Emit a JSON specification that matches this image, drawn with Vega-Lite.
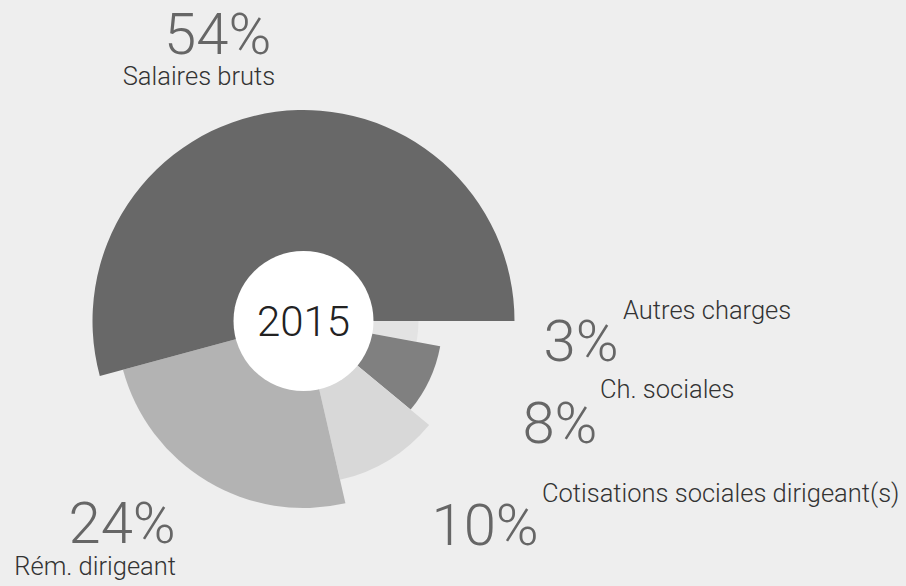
{
  "$schema": "https://vega.github.io/schema/vega-lite/v6.json",
  "width": 600,
  "height": 500,
  "autosize": {"type": "none"},
  "padding": {"left": 3.5, "top": 71, "right": 302.5, "bottom": 15},
  "background": "#eeeeee",
  "config": {"view": {"stroke": null}},
  "data": {
    "values": [
      {"categorie": "Autres charges", "part": 0.029},
      {"categorie": "Ch. sociales", "part": 0.081},
      {"categorie": "Cotisations sociales dirigeant(s)", "part": 0.104},
      {"categorie": "Rém. dirigeant", "part": 0.244},
      {"categorie": "Salaires bruts", "part": 0.542}
    ]
  },
  "layer": [
    {
      "mark": {"type": "arc", "strokeWidth": 0, "radius2": 0},
      "encoding": {
        "theta": {"field": "part", "type": "quantitative", "stack": true, "scale": {"range": [1.5708, 7.854]}},
        "order": {"field": "part", "type": "quantitative", "sort": "ascending"},
        "radius": {"field": "part", "type": "quantitative", "scale": {"type": "linear", "zero": false, "domain": [0.029, 0.081, 0.104, 0.244, 0.542], "range": [115, 139, 163, 187, 211]}},
        "color": {"field": "categorie", "type": "nominal", "legend": null, "scale": {"domain": ["Autres charges", "Ch. sociales", "Cotisations sociales dirigeant(s)", "Rém. dirigeant", "Salaires bruts"], "range": ["#e3e3e3", "#808080", "#d8d8d8", "#b3b3b3", "#686868"]}}
      }
    },
    {
      "data": {"values": [{"annee": "2015"}]},
      "mark": {"type": "arc", "radius": 70, "theta": 0, "theta2": 6.2832, "fill": "#ffffff"},
      "encoding": {}
    },
    {
      "data": {"values": [{"annee": "2015"}]},
      "mark": {"type": "text", "font": "Roboto", "fontWeight": 300, "fontSize": 42, "color": "#222222", "align": "center", "baseline": "middle", "dy": 2},
      "encoding": {"text": {"field": "annee", "type": "nominal"}}
    },
    {
      "mark": {"type": "text", "font": "Roboto", "fontWeight": 300, "fontSize": 58, "color": "#666666", "align": "center", "baseline": "middle"},
      "encoding": {
        "theta": {"field": "part", "type": "quantitative", "stack": false, "scale": {"type": "linear", "zero": false, "domain": [0.029, 0.081, 0.104, 0.244, 0.542], "range": [1.6528, 1.96, 2.4225, 3.8659, 5.99]}},
        "radius": {"field": "part", "type": "quantitative", "scale": {"type": "linear", "zero": false, "domain": [0.029, 0.081, 0.104, 0.244, 0.542], "range": [278.5, 277.2, 275.7, 273.8, 296.8]}},
        "text": {"field": "part", "type": "quantitative", "format": ".0%"}
      }
    },
    {
      "mark": {"type": "text", "font": "Roboto", "fontWeight": 300, "fontSize": 25.5, "color": "#333333", "align": "left", "baseline": "middle"},
      "encoding": {
        "theta": {"field": "part", "type": "quantitative", "stack": false, "scale": {"type": "linear", "zero": false, "domain": [0.029, 0.081, 0.104, 0.244, 0.542], "range": [1.5394, 1.7994, 2.1984, 4.0083, 5.6455]}},
        "radius": {"field": "part", "type": "quantitative", "scale": {"type": "linear", "zero": false, "domain": [0.029, 0.081, 0.104, 0.244, 0.542], "range": [319.7, 304.4, 294.6, 379.5, 303.7]}},
        "text": {"field": "categorie", "type": "nominal"}
      }
    }
  ],
  "resolve": {"scale": {"theta": "independent", "radius": "independent", "color": "independent"}}
}
